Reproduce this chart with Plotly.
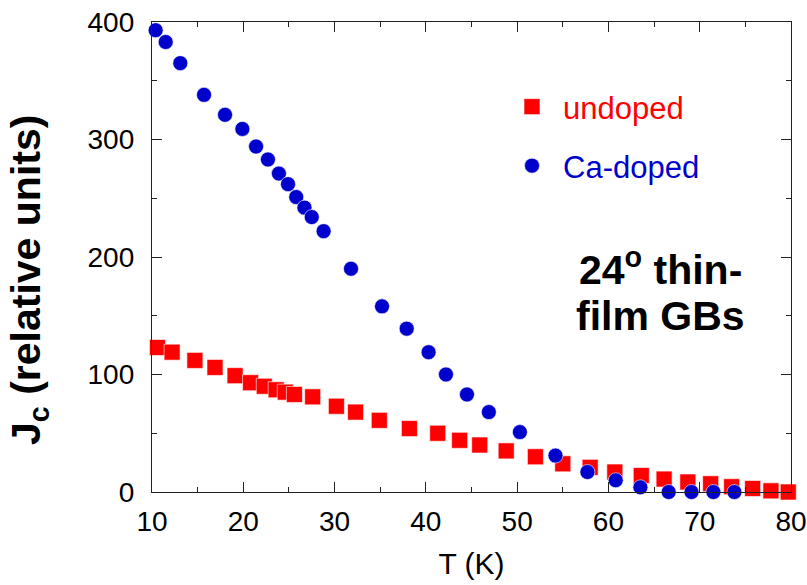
import plotly.graph_objects as go

# Temperature (K) and critical current density (relative units)
t_undoped = [10.6, 12.2, 14.7, 16.9, 19.1, 20.8, 22.3, 23.6, 24.6, 25.6, 27.6,
             30.2, 32.3, 34.9, 38.2, 41.3, 43.7, 45.9, 48.8, 52.0, 55.0, 58.0,
             60.7, 63.6, 66.1, 68.7, 71.2, 73.5, 75.8, 77.8, 79.7]
jc_undoped = [123, 119, 112, 106, 99, 93, 90, 87, 85, 83, 81,
              73, 68, 61, 54, 50, 44, 40, 35, 30, 24, 21,
              17, 14, 11, 8.5, 7, 4.5, 3, 1, 0]

t_cadoped = [10.4, 11.5, 13.1, 15.7, 18.0, 19.9, 21.4, 22.7, 23.9, 24.9, 25.8,
             26.7, 27.5, 28.8, 31.8, 35.2, 37.9, 40.3, 42.2, 44.5, 46.9, 50.3,
             54.2, 57.7, 60.8, 63.5, 66.6, 69.1, 71.5, 73.8]
jc_cadoped = [393, 383, 365, 338, 321, 309, 294, 283, 271, 262, 251,
              242, 234, 222, 190, 158, 139, 119, 100, 83, 68, 51,
              31, 17, 10, 4, 0, 0, 0, 0]

RED = "#ff0000"
BLUE = "#0000cc"
FONT = "Liberation Sans, Arial, sans-serif"

fig = go.Figure()
fig.add_trace(go.Scatter(
    x=t_undoped, y=jc_undoped, mode="markers", name="undoped",
    marker=dict(symbol="square", size=16, color=RED,
                line=dict(width=0.6, color="white")),
    cliponaxis=False, showlegend=True, legend="legend"))
fig.add_trace(go.Scatter(
    x=t_cadoped, y=jc_cadoped, mode="markers", name="Ca-doped",
    marker=dict(symbol="circle", size=15, color=BLUE,
                line=dict(width=0.6, color="white")),
    cliponaxis=False, showlegend=True, legend="legend2"))

axis_common = dict(
    showline=True, linecolor="#222", linewidth=1.3, mirror="ticks",
    ticks="inside", ticklen=10, tickwidth=1.3, tickcolor="#222",
    showgrid=False, zeroline=False, automargin=False,
    tickfont=dict(family=FONT, size=28, color="black"),
)

fig.update_xaxes(
    range=[10, 80], tick0=10, dtick=10,
    minor=dict(ticks="inside", ticklen=5, tickwidth=1.3, tickcolor="#222", dtick=5),
    ticklabelstandoff=4,
    title=dict(text="T (K)", font=dict(family=FONT, size=30, color="black"), standoff=17),
    **axis_common)
fig.update_yaxes(
    range=[0, 400], tick0=0, dtick=100,
    minor=dict(ticks="inside", ticklen=5, tickwidth=1.3, tickcolor="#222", dtick=50),
    ticklabelstandoff=11,
    **axis_common)

# Y-axis title and the sample label
fig.add_annotation(
    text="<b>J<sub>c</sub> (relative units)</b>", textangle=-90,
    xref="paper", yref="paper", x=(29 - 152) / 639, y=(492 - 280) / 470,
    xanchor="center", yanchor="middle", showarrow=False,
    font=dict(family=FONT, size=41, color="black"))
fig.add_annotation(
    text="<b>24<sup>o</sup> thin-</b>",
    xref="paper", yref="paper", x=(660 - 152) / 639, y=(492 - 267) / 470,
    xanchor="center", yanchor="middle", showarrow=False,
    font=dict(family=FONT, size=41, color="black"))
fig.add_annotation(
    text="<b>film GBs</b>",
    xref="paper", yref="paper", x=(660 - 152) / 639, y=(492 - 316) / 470,
    xanchor="center", yanchor="middle", showarrow=False,
    font=dict(family=FONT, size=41, color="black"))

legend_common = dict(bgcolor="rgba(0,0,0,0)", borderwidth=0, xanchor="left",
                     yanchor="middle", itemwidth=52)
fig.update_layout(
    width=807, height=585,
    margin=dict(l=152, r=16, t=22, b=93),
    paper_bgcolor="white", plot_bgcolor="white",
    font=dict(family=FONT, color="black"),
    showlegend=True,
    legend=dict(x=(501 - 152) / 639, y=(492 - 107) / 470,
                font=dict(family=FONT, size=31, color=RED), **legend_common),
    legend2=dict(x=(501 - 152) / 639, y=(492 - 166) / 470,
                 font=dict(family=FONT, size=31, color=BLUE), **legend_common),
)

fig.write_html("out.html")
